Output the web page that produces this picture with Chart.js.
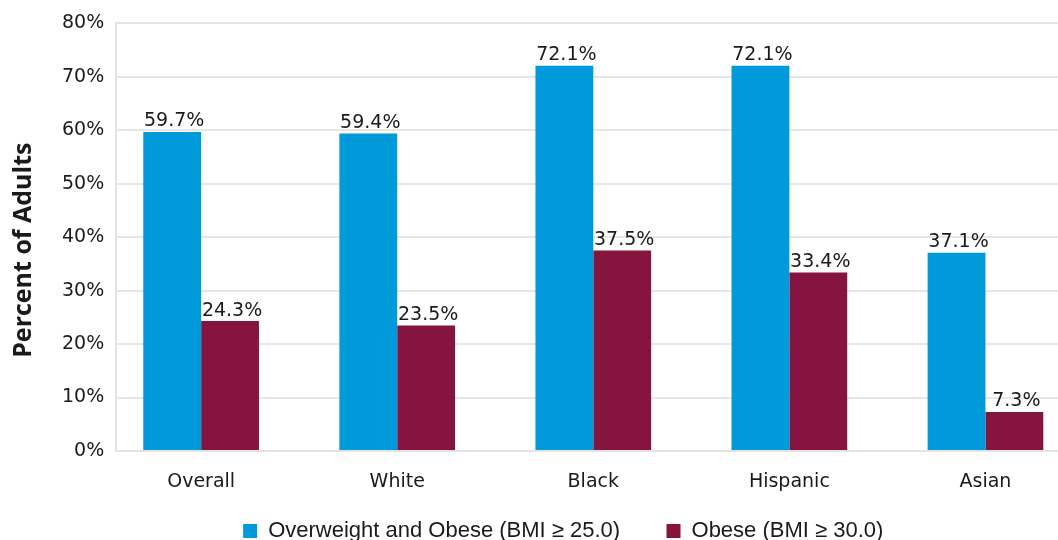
<!DOCTYPE html>
<html>
<head>
<meta charset="utf-8">
<script src="https://cdn.jsdelivr.net/npm/chart.js@4"></script>
<style>
  html, body { margin: 0; padding: 0; background: #fff; overflow: hidden; }
  #wrap { width: 1058px; height: 540px; }
</style>
</head>
<body>
<div id="wrap"><canvas id="my-chart"></canvas></div>
<script>
const categories = ['Overall', 'White', 'Black', 'Hispanic', 'Asian'];
const overweightObese = [59.7, 59.4, 72.1, 72.1, 37.1];
const obese = [24.3, 23.5, 37.5, 33.4, 7.3];
const yTicks = [0, 10, 20, 30, 40, 50, 60, 70, 80];

const FONT = '"DejaVu Sans", sans-serif';
const TEXT = '#1a1a1a';

// value labels above each bar
const valueLabels = {
    id: 'valueLabels',
    afterDatasetsDraw(chart) {
        const ctx = chart.ctx;
        ctx.save();
        ctx.font = '19px ' + FONT;
        ctx.fillStyle = TEXT;
        ctx.textAlign = 'center';
        ctx.textBaseline = 'bottom';
        chart.data.datasets.forEach((ds, i) => {
            chart.getDatasetMeta(i).data.forEach((bar, j) => {
                ctx.fillText(ds.data[j].y.toFixed(1) + '%', bar.x + 2, bar.y - 1);
            });
        });
        ctx.restore();
    },
};

const toPoints = arr => arr.map((v, i) => ({ x: i, y: v }));

const ctx = document.getElementById('my-chart').getContext('2d');

let myChart = new Chart(ctx, {
    type: 'bar',
    data: {
        datasets: [
            {
                // trailing spaces set the gap between legend items
                label: 'Overweight and Obese (BMI \u2265 25.0)\u2003   ',
                data: toPoints(overweightObese),
                backgroundColor: '#0099d9',
            },
            {
                label: 'Obese (BMI \u2265 30.0)\u2003\u2003\u2003\u2003\u2003\u2003      ',
                data: toPoints(obese),
                backgroundColor: '#85153f',
            },
        ],
    },
    options: {
        responsive: true,
        maintainAspectRatio: false,
        animation: false,
        categoryPercentage: 0.59,
        barPercentage: 1,
        layout: { padding: { top: 11, right: 0, left: 9, bottom: -12 } },
        plugins: {
            tooltip: { enabled: false },
            legend: {
                position: 'bottom',
                align: 'end',
                labels: {
                    font: { family: '"Liberation Sans", sans-serif', size: 22 },
                    color: TEXT,
                    boxWidth: 14,
                    boxHeight: 14,
                    padding: 6,
                },
            },
        },
        scales: {
            x: {
                type: 'linear',
                offset: false,
                min: -0.433,
                max: 4.37,
                afterBuildTicks: s => { s.ticks = categories.map((c, i) => ({ value: i })); },
                ticks: {
                    callback: v => categories[v],
                    font: { family: FONT, size: 19, lineHeight: 1 },
                    color: TEXT,
                    padding: 22,
                },
                grid: { display: false, drawTicks: false },
                border: { display: true, color: '#e3e3e3', width: 2 },
            },
            y: {
                min: 0,
                max: 80,
                afterBuildTicks: s => { s.ticks = yTicks.map(v => ({ value: v })); },
                ticks: {
                    callback: v => v + '%',
                    font: { family: FONT, size: 19 },
                    color: TEXT,
                    padding: 12,
                },
                grid: { color: '#e6e6e6', lineWidth: 2, drawTicks: false },
                border: { display: true, color: '#e3e3e3', width: 2 },
                title: {
                    display: true,
                    text: 'Percent of Adults    ',
                    font: { family: '"Open Sans", sans-serif', size: 25, weight: 'bold' },
                    color: TEXT,
                    padding: { top: 0, bottom: 11 },
                },
            },
        },
    },
    plugins: [valueLabels],
});
</script>
</body>
</html>
